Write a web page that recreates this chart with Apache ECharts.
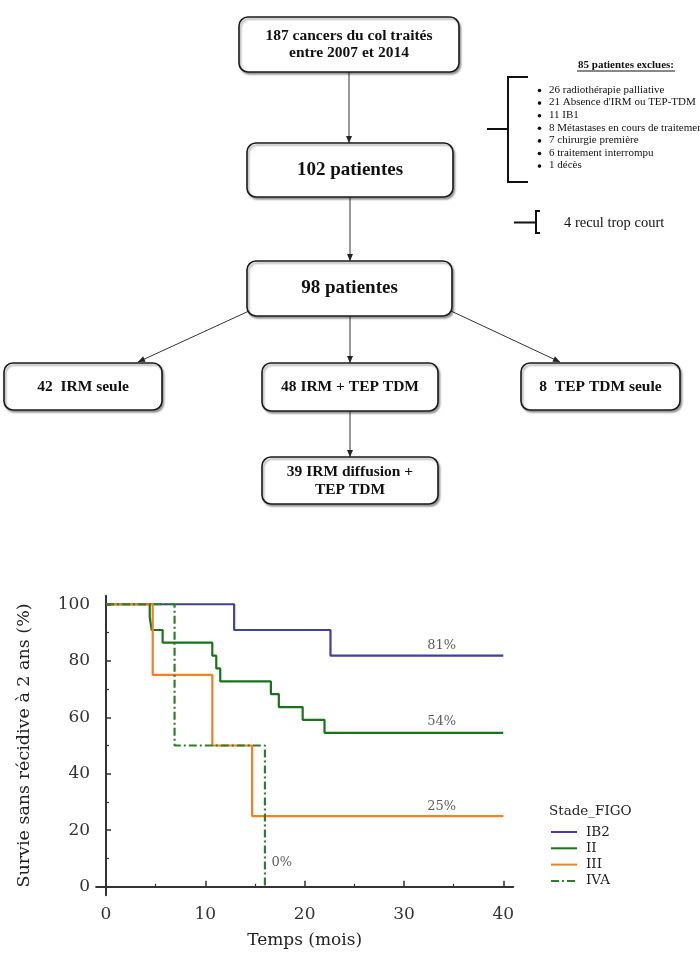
<!DOCTYPE html>
<html>
<head>
<meta charset="utf-8">
<script src="https://cdn.jsdelivr.net/npm/echarts@6/dist/echarts.min.js"></script>
<style>
  html, body { margin: 0; padding: 0; background: #fff; }
  #chart { width: 700px; height: 973px; }
</style>
</head>
<body>
<div id="chart"></div>
<script>
// ---------- Flowchart texts ----------
const boxTotal = ['187 cancers du col traités', 'entre 2007 et 2014'];
const boxIncluded = ['102 patientes'];
const boxAnalysed = ['98 patientes'];
const boxIrmOnly = ['42  IRM seule'];
const boxIrmTep = ['48 IRM + TEP TDM'];
const boxTepOnly = ['8  TEP TDM seule'];
const boxDiffTep = ['39 IRM diffusion +', 'TEP TDM'];
const excludedTitle = '85 patientes exclues:';
const excludedItems = [
  '26 radiothérapie palliative',
  "21 Absence d'IRM ou TEP-TDM",
  '11 IB1',
  '8 Métastases en cours de traitement',
  '7 chirurgie première',
  '6 traitement interrompu',
  '1 décès'
];
const shortFollowUp = '4 recul trop court';

// ---------- Kaplan-Meier data ----------
const stages = ['IB2', 'II', 'III', 'IVA'];
const legendTitle = 'Stade_FIGO';
const timeIB2 = [0, 12.9, 22.6, 40];
const survIB2 = [100, 90.9, 81.8, 81.8];
const timeII = [0, 4.4, 4.6, 5.7, 10.7, 11.1, 11.5, 16.6, 17.4, 19.8, 22.0, 40];
const survII = [100, 95.45, 90.9, 86.4, 81.8, 77.3, 72.7, 68.2, 63.6, 59.1, 54.5, 54.5];
const timeIII = [0, 4.7, 10.7, 14.7, 40];
const survIII = [100, 75, 50, 25, 25];
const timeIVA = [0, 6.9, 16.0];
const survIVA = [100, 50, 0];
const endLabels = ['81%', '54%', '25%', '0%'];
const endLabelX = [33.8, 33.8, 33.8, 17.7];
const endLabelY = [85.5, 58.3, 28.3, 8.6];
const xMajorTicks = [0, 10, 20, 30, 40];
const xMinorTicks = [5, 15, 25, 35];
const yMajorTicks = [0, 20, 40, 60, 80, 100];
const yMinorTicks = [10, 30, 50, 70, 90];
const xTitle = 'Temps (mois)';
const yTitle = 'Survie sans récidive à 2 ans (%)';

// ---------- helpers ----------
const SERIF = '"Liberation Serif", "Times New Roman", serif';
const CM = '"DejaVu Serif", serif';
const g = [];

function box(x, y, w, h, lines, fontSize, lineGap) {
  g.push({
    type: 'rect',
    shape: { x: x, y: y, width: w, height: h, r: 9 },
    style: {
      fill: '#fff', stroke: '#1a1a1a', lineWidth: 1.6,
      shadowColor: 'rgba(0,0,0,0.35)', shadowBlur: 2, shadowOffsetX: 1.5, shadowOffsetY: 2
    },
    z: 10
  });
  const cx = x + w / 2, cy = y + h / 2;
  const n = lines.length;
  lines.forEach(function (t, i) {
    g.push({
      type: 'text',
      style: {
        text: t, x: cx, y: cy + (i - (n - 1) / 2) * lineGap,
        font: 'bold ' + fontSize + 'px ' + SERIF, fill: '#111',
        textAlign: 'center', textVerticalAlign: 'middle',
        align: 'center', verticalAlign: 'middle'
      },
      z: 11
    });
  });
}

function arrow(x1, y1, x2, y2) {
  g.push({
    type: 'line', shape: { x1: x1, y1: y1, x2: x2, y2: y2 },
    style: { stroke: '#333', lineWidth: 1 }, z: 5
  });
  const ang = Math.atan2(y2 - y1, x2 - x1);
  const L = 7, W = 3;
  const bx = x2 - L * Math.cos(ang), by = y2 - L * Math.sin(ang);
  const px = -Math.sin(ang) * W, py = Math.cos(ang) * W;
  g.push({
    type: 'polygon',
    shape: { points: [[x2, y2], [bx + px, by + py], [bx - px, by - py]] },
    style: { fill: '#222' }, z: 6
  });
}

function seg(pts, w) {
  g.push({
    type: 'polyline', shape: { points: pts },
    style: { stroke: '#111', lineWidth: w || 2, fill: null }, z: 5
  });
}

function txt(t, x, y, font, align, fill) {
  g.push({
    type: 'text',
    style: {
      text: t, x: x, y: y, font: font, fill: fill || '#111',
      textAlign: align, textVerticalAlign: 'middle', align: align, verticalAlign: 'middle'
    },
    z: 11
  });
}

// ---------- flowchart ----------
box(239, 17, 220, 55, boxTotal, 15.5, 17.5);
box(247, 143, 206, 54, boxIncluded, 19, 0);
box(247, 261, 205, 55, boxAnalysed, 19, 0);
box(4, 363, 158, 47, boxIrmOnly, 15.5, 0);
box(262, 363, 176, 48, boxIrmTep, 15.5, 0);
box(521, 363, 159, 47, boxTepOnly, 15.5, 0);
box(262, 457, 176, 47, boxDiffTep, 15.5, 18);

arrow(349, 72, 349, 143);
arrow(350, 197, 350, 261);
arrow(350, 316, 350, 363);
arrow(350, 411, 350, 457);
arrow(249, 311, 138, 362);
arrow(451, 311, 560, 362);

// exclusion bracket + list
seg([[528, 77], [508, 77], [508, 182], [528, 182]], 2);
seg([[487, 129], [508, 129]], 2);
txt(excludedTitle, 626, 65, 'bold 11px ' + SERIF, 'center');
seg([[577, 71], [675, 71]], 1);
excludedItems.forEach(function (t, i) {
  const y = 90 + i * 12.6;
  g.push({ type: 'circle', shape: { cx: 539.5, cy: y + 0.5, r: 1.8 }, style: { fill: '#111' }, z: 11 });
  txt(t, 549, y, '11px ' + SERIF, 'left');
});

// short follow-up bracket
seg([[540, 211], [536, 211], [536, 233], [540, 233]], 2);
seg([[514, 222.5], [536, 222.5]], 2);
txt(shortFollowUp, 564, 223, '14.5px ' + SERIF, 'left');

// legend title
txt(legendTitle, 549, 811, '13.5px ' + CM, 'left', '#222');

// ---------- KM series ----------
function pairs(xs, ys) { return xs.map(function (x, i) { return [x, ys[i]]; }); }
const colors = ['#40409f', '#17741a', '#f7801e', '#2a7f2a'];
const timesAll = [timeIB2, timeII, timeIII, timeIVA];
const survAll = [survIB2, survII, survIII, survIVA];

const series = stages.map(function (name, i) {
  return {
    name: name,
    type: 'line',
    step: 'end',
    symbol: 'none',
    xAxisIndex: 0, yAxisIndex: 0,
    data: pairs(timesAll[i], survAll[i]),
    lineStyle: {
      color: colors[i], width: 2.2,
      type: name === 'IVA' ? [8, 3, 2, 3] : 'solid'
    },
    itemStyle: { color: colors[i] },
    z: 2 + i,
    silent: true
  };
});
series.push({
  type: 'scatter',
  xAxisIndex: 0, yAxisIndex: 0,
  symbolSize: 0,
  data: endLabels.map(function (t, i) { return [endLabelX[i], endLabelY[i], t]; }),
  label: {
    show: true, position: 'inside',
    formatter: function (p) { return p.value[2]; },
    fontFamily: CM, fontSize: 13, color: '#333'
  },
  z: 10, silent: true
});

const axisFont = { fontFamily: CM, fontSize: 17, color: '#333' };

const option = {
  animation: false,
  backgroundColor: '#fff',
  grid: { left: 96.1, top: 595.8, width: 417.1, height: 299.4, containLabel: false },
  xAxis: [
    {
      type: 'value', min: -1, max: 41, position: 'bottom',
      axisLine: { show: true, lineStyle: { color: '#333', width: 2 } },
      axisTick: { show: true, inside: true, length: 6, customValues: xMajorTicks, lineStyle: { color: '#333', width: 1.5 } },
      axisLabel: Object.assign({ customValues: xMajorTicks, margin: 11 }, axisFont),
      splitLine: { show: false },
      name: xTitle, nameLocation: 'middle', nameGap: 37,
      nameTextStyle: { fontFamily: CM, fontSize: 17, color: '#222' }
    },
    {
      type: 'value', min: -1, max: 41, position: 'bottom', offset: 0,
      axisLine: { show: false },
      axisTick: { show: true, inside: true, length: 3, customValues: xMinorTicks, lineStyle: { color: '#333', width: 1.2 } },
      axisLabel: { show: false },
      splitLine: { show: false }
    }
  ],
  yAxis: [
    {
      type: 'value', min: -3, max: 103, position: 'left',
      axisLine: { show: true, lineStyle: { color: '#333', width: 2 } },
      axisTick: { show: true, inside: true, length: 5, customValues: yMajorTicks, lineStyle: { color: '#333', width: 1.5 } },
      axisLabel: Object.assign({ customValues: yMajorTicks, margin: 6 }, axisFont),
      splitLine: { show: false },
      name: yTitle, nameLocation: 'middle', nameGap: 63, nameRotate: 90,
      nameTextStyle: { fontFamily: CM, fontSize: 17.5, color: '#222' }
    },
    {
      type: 'value', min: -3, max: 103, position: 'left', offset: 0,
      axisLine: { show: false },
      axisTick: { show: true, inside: true, length: 3, customValues: yMinorTicks, lineStyle: { color: '#333', width: 1.2 } },
      axisLabel: { show: false },
      splitLine: { show: false }
    }
  ],
  legend: {
    data: stages,
    orient: 'vertical',
    left: 545, top: 820,
    itemWidth: 26, itemHeight: 14, itemGap: 2.3,
    itemStyle: { opacity: 0 },
    textStyle: { fontFamily: CM, fontSize: 13.5, color: '#222', padding: [0, 0, 0, 4] },
    selectedMode: false
  },
  series: series,
  graphic: { elements: g }
};

const chart = echarts.init(document.getElementById('chart'), null, { renderer: 'canvas' });
chart.setOption(option);
</script>
</body>
</html>
